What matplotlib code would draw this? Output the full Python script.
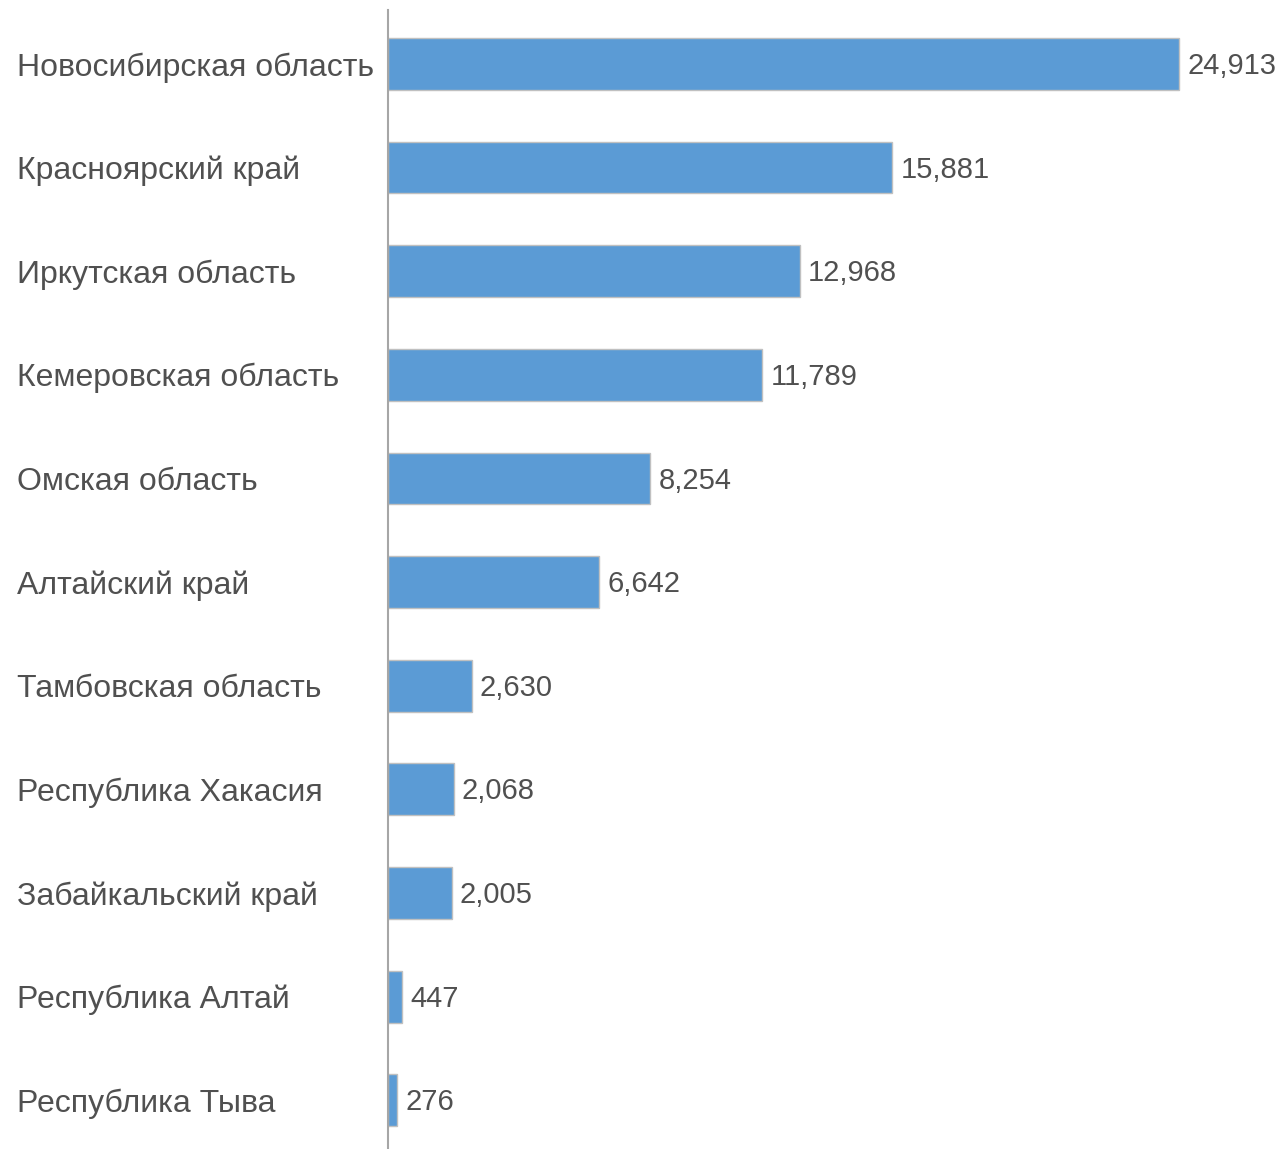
import matplotlib.pyplot as plt

plt.rcParams['font.family'] = ['Liberation Sans', 'DejaVu Sans']

regions = [
    "Новосибирская область",
    "Красноярский край",
    "Иркутская область",
    "Кемеровская область",
    "Омская область",
    "Алтайский край",
    "Тамбовская область",
    "Республика Хакасия",
    "Забайкальский край",
    "Республика Алтай",
    "Республика Тыва",
]
values = [24913, 15881, 12968, 11789, 8254, 6642, 2630, 2068, 2005, 447, 276]

fig = plt.figure(figsize=(12.84, 11.49), dpi=100)
ax = fig.add_axes([388 / 1284, 0, 896 / 1284, 1139 / 1149])

pos = list(range(len(regions)))
ax.barh(pos, values, height=0.5, color="#5b9bd5", edgecolor="#c0c0c0", linewidth=1)

for p, v in zip(pos, values):
    ax.annotate(f"{v:,}", (v, p), xytext=(6, -1.5), textcoords="offset points",
                va="center", ha="left", fontsize=21, color="#505050")

ax.set_xlim(0, 28220)
ax.set_ylim(10.47, -0.52)
ax.set_yticks(pos)
ax.set_yticklabels(regions, fontsize=23, color="#505050", ha="left")
ax.tick_params(axis="y", length=0, pad=267)
ax.set_xticks([])

for s in ["top", "right", "bottom"]:
    ax.spines[s].set_visible(False)
ax.spines["left"].set_color("#a6a6a6")
ax.spines["left"].set_linewidth(1.5)

fig.savefig("out.png", dpi=100)
